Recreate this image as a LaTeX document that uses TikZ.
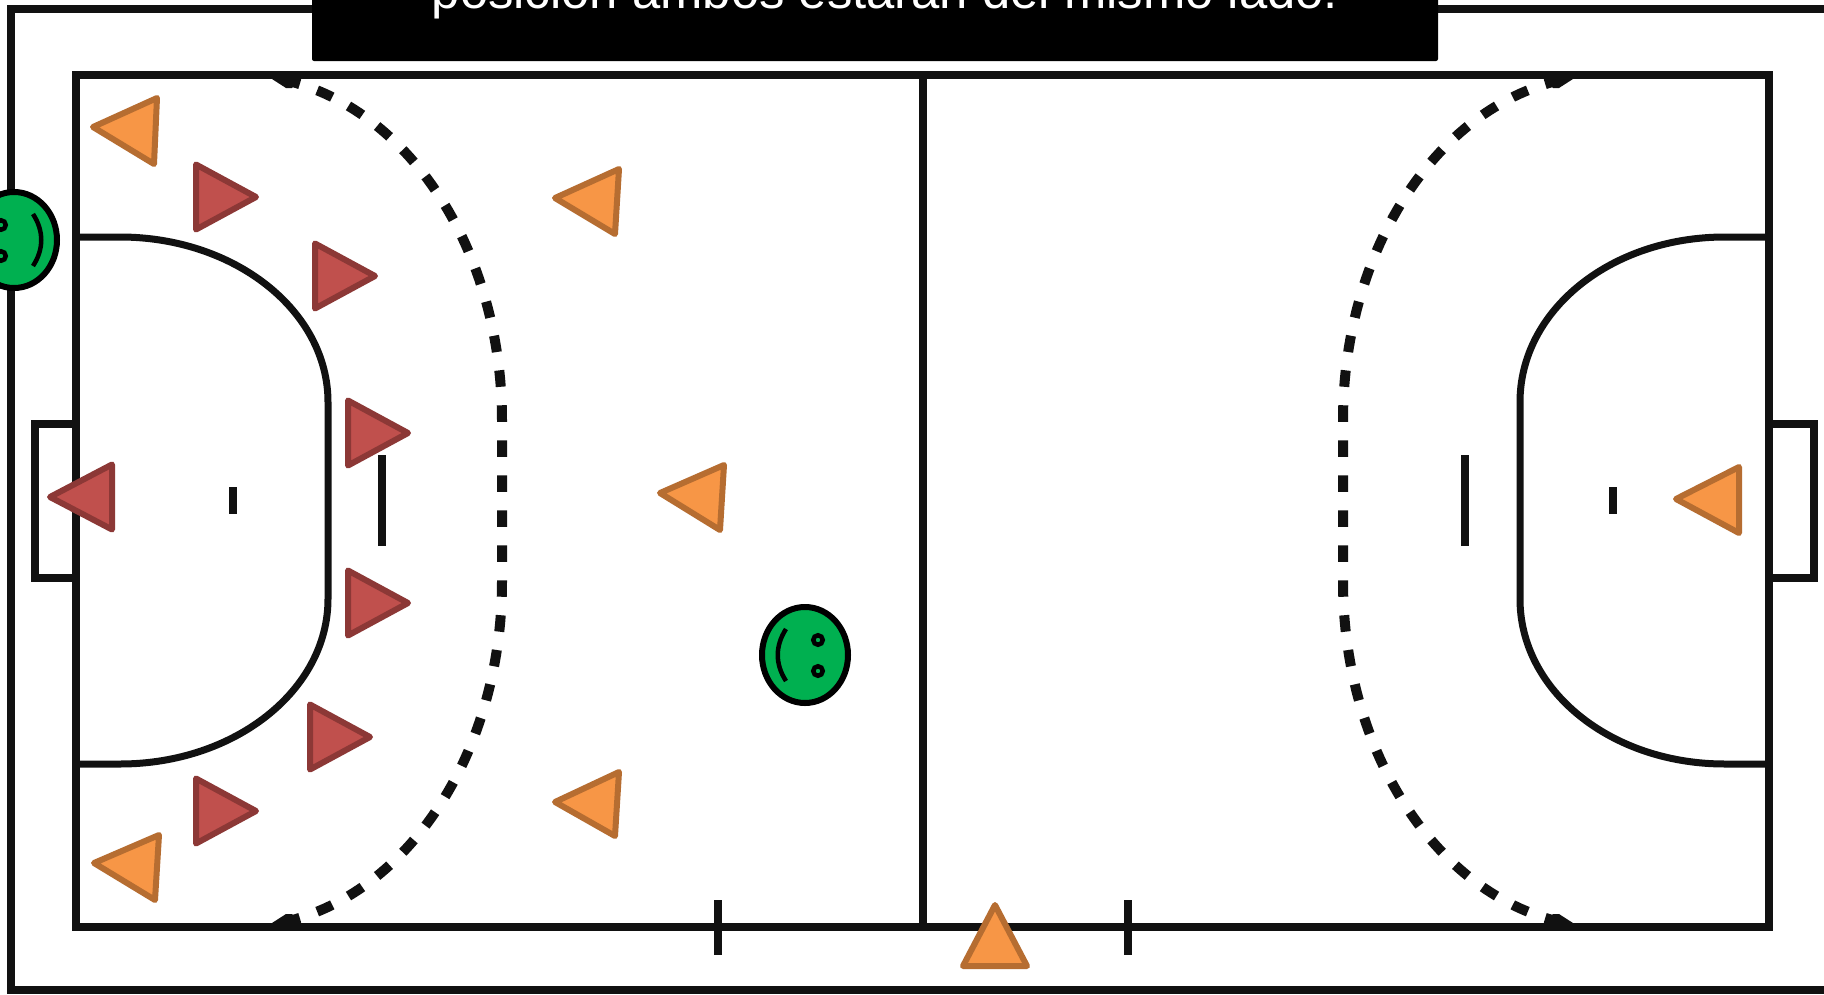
\documentclass[tikz,border=0pt]{standalone}
\usepackage{fontspec}
\setmainfont{Liberation Sans}
\definecolor{linek}{HTML}{111111}
\definecolor{orfill}{HTML}{F79646}
\definecolor{ordraw}{HTML}{B66D31}
\definecolor{rdfill}{HTML}{C0504D}
\definecolor{rddraw}{HTML}{8C3836}
\definecolor{grfill}{HTML}{00B050}
\tikzset{
  courtline/.style={draw=linek,line width=8pt},
  arealine/.style={draw=linek,line width=7pt},
  freeline/.style={draw=linek,line width=10pt,dash pattern=on 16.5pt off 18.5pt,dash phase=25.75pt},
  endblob/.style={fill=linek},
  marker/.style={draw=linek,line width=8pt},
  ortri/.style={draw=ordraw,fill=orfill,line width=6pt,line join=round},
  rdtri/.style={draw=rddraw,fill=rdfill,line width=6pt,line join=round},
  face/.style={draw=black,fill=grfill,line width=6pt},
  eye/.style={draw=black,fill=grfill,line width=4.5pt},
  mouth/.style={draw=black,line width=4.5pt},
}
\newcommand{\redplayer}[2]{\draw[rdtri] (#1,#2-32.5) -- (#1+60,#2) -- (#1,#2+32.5) -- cycle;}
\begin{document}
\begin{tikzpicture}[x=1pt,y=-1pt]
\path[use as bounding box] (0,0) rectangle (1824,994);
\clip (0,0) rectangle (1824,994);
\fill[white] (0,0) rectangle (1824,994);
% outer frame
\draw[courtline] (1840,9) -- (11,9) -- (11,990) -- (1840,990);
% goals
\draw[courtline] (76,424) -- (35,424) -- (35,578) -- (76,578);
\draw[courtline] (1769,424) -- (1814,424) -- (1814,578) -- (1769,578);
% court
\draw[courtline] (76,75) rectangle (1769,927);
\draw[courtline] (923,75) -- (923,927);
% substitution ticks
\draw[marker] (718,900) -- (718,955);
\draw[marker] (1128,900) -- (1128,955);
% goal areas
\draw[arealine] (76,237) -- (120,237) .. controls (234.9,237) and (328,310.9) .. (328,402)
  -- (328,599) .. controls (328,690.1) and (234.9,764) .. (120,764) -- (76,764);
\draw[arealine] (1769,237) -- (1725,237) .. controls (1610.1,237) and (1520,310.9) .. (1520,402)
  -- (1520,599) .. controls (1520,690.1) and (1610.1,764) .. (1725,764) -- (1769,764);
% free-throw lines
\draw[freeline] (502,501) -- (502,420) -- plot[domain=0:79,samples=60,variable=\t] ({240+262*cos(\t)},{420-345*sin(\t)});
\draw[freeline] (502,501) -- (502,582) -- plot[domain=0:79,samples=60,variable=\t] ({240+262*cos(\t)},{582+345*sin(\t)});
\draw[freeline] (1343,501) -- (1343,420) -- plot[domain=0:79,samples=60,variable=\t] ({1605-262*cos(\t)},{420-345*sin(\t)});
\draw[freeline] (1343,501) -- (1343,582) -- plot[domain=0:79,samples=60,variable=\t] ({1605-262*cos(\t)},{582+345*sin(\t)});
\fill[endblob] (272,79) -- (300,79) -- (292,88) -- (286,88) -- cycle;
\fill[endblob] (272,923) -- (300,923) -- (292,914) -- (286,914) -- cycle;
\fill[endblob] (1573,79) -- (1545,79) -- (1553,88) -- (1559,88) -- cycle;
\fill[endblob] (1573,923) -- (1545,923) -- (1553,914) -- (1559,914) -- cycle;
% seven-metre and goalkeeper marks
\draw[marker] (382,455) -- (382,546);
\draw[marker] (1465,455) -- (1465,546);
\draw[marker] (233,487) -- (233,514);
\draw[marker] (1613,487) -- (1613,514);
% red team
\redplayer{196}{197}
\redplayer{315}{276}
\redplayer{348}{433}
\redplayer{348}{603}
\redplayer{310}{737}
\redplayer{196}{811}
\draw[rdtri] (50,497) -- (112,464.5) -- (112,529.5) -- cycle;
% orange team
\draw[ortri] (93,127) -- (157,98) -- (154,164) -- cycle;
\draw[ortri] (555,198) -- (619,169) -- (615,234) -- cycle;
\draw[ortri] (660,493) -- (724,465) -- (720,530) -- cycle;
\draw[ortri] (555,802) -- (619,772) -- (615,836) -- cycle;
\draw[ortri] (94,863) -- (159,835) -- (155,900) -- cycle;
\draw[ortri] (1676,499) -- (1739,467) -- (1739,533) -- cycle;
\draw[ortri] (995,905) -- (1027,966) -- (963,966) -- cycle;
% referees
\draw[face] (805,655) ellipse [x radius=43,y radius=-48];
\draw[eye] (818,640) circle [radius=4.75];
\draw[eye] (818,671) circle [radius=4.75];
\draw[mouth] (786,629) .. controls (775,646) and (775,664) .. (786,681);
\draw[face] (14,240) ellipse [x radius=43,y radius=-48];
\draw[eye] (1,225) circle [radius=4.75];
\draw[eye] (1,256) circle [radius=4.75];
\draw[mouth] (33,214) .. controls (44,231) and (44,249) .. (33,266);
% banner
\fill[black,rounded corners=2pt] (312,-20) rectangle (1438,61);
\node[anchor=base,inner sep=0pt,text=white,font=\fontsize{50.8}{60}\selectfont] (caption) at (885,8.5) {posición ambos estarán del mismo lado.};
\end{tikzpicture}
\end{document}
